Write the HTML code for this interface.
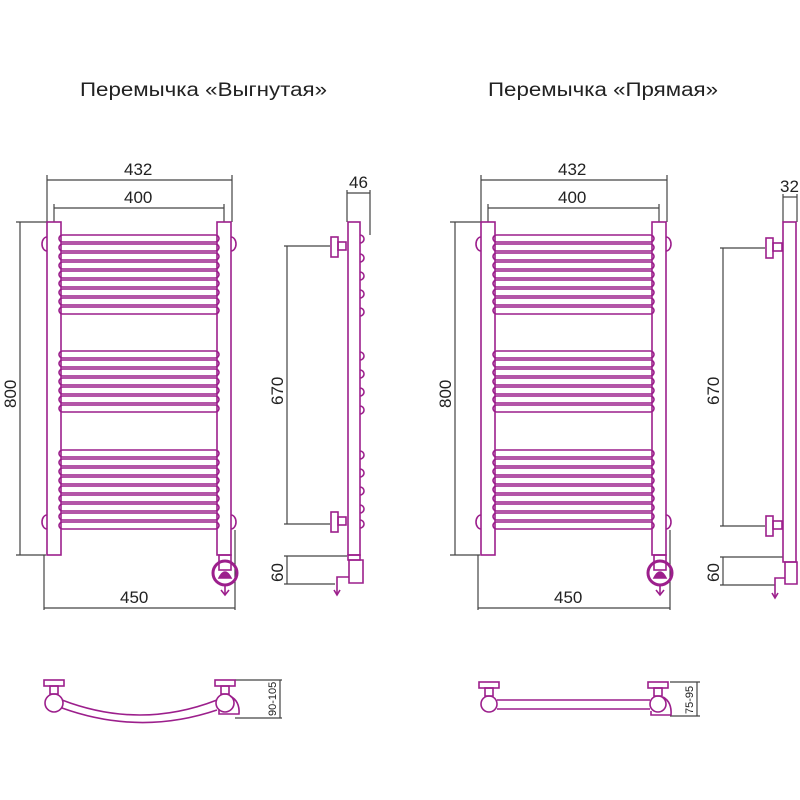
<!DOCTYPE html>
<html><head><meta charset="utf-8"><style>
html,body{margin:0;padding:0;background:#fff;}
svg{display:block;}
text{font-family:"Liberation Sans",sans-serif;fill:#222;}
</style></head><body>
<svg width="800" height="800" viewBox="0 0 800 800" xmlns="http://www.w3.org/2000/svg">
<text x="80" y="96" font-size="19" textLength="247" lengthAdjust="spacingAndGlyphs">Перемычка «Выгнутая»</text>
<text x="488" y="96" font-size="19" textLength="230" lengthAdjust="spacingAndGlyphs">Перемычка «Прямая»</text>

<!-- ===== LEFT FRONT ===== -->
<g stroke="#444" stroke-width="1.2" fill="none">
<line x1="47" y1="180" x2="232" y2="180"/><line x1="47" y1="175" x2="47" y2="222"/><line x1="232" y1="175" x2="232" y2="222"/>
<line x1="54" y1="208" x2="224" y2="208"/><line x1="54" y1="204" x2="54" y2="222"/><line x1="224" y1="204" x2="224" y2="222"/>
<line x1="16" y1="222" x2="47" y2="222"/><line x1="20" y1="222" x2="20" y2="555"/><line x1="16" y1="555" x2="46" y2="555"/>
<line x1="44" y1="555" x2="44" y2="610"/><line x1="44" y1="608" x2="235" y2="608"/><line x1="235" y1="530" x2="235" y2="610"/>
</g>
<text x="124" y="175" font-size="17">432</text>
<text x="124" y="203" font-size="17">400</text>
<text x="120" y="603" font-size="17">450</text>
<text transform="translate(16,408) rotate(-90)" font-size="17">800</text>

<g fill="none" stroke="#9c1f8c" stroke-width="1.6">
<rect x="47" y="222" width="14" height="333"/>
<rect x="217" y="222" width="14" height="333"/>
<path d="M47 237 a5 7 0 0 0 0 14"/><path d="M231 237 a5 7 0 0 1 0 14"/>
<path d="M47 515 a5 7 0 0 0 0 14"/><path d="M231 515 a5 7 0 0 1 0 14"/>
<rect x="59" y="235" width="160" height="7" rx="3.5"/><rect x="59" y="244" width="160" height="7" rx="3.5"/>
<rect x="59" y="253" width="160" height="7" rx="3.5"/><rect x="59" y="262" width="160" height="7" rx="3.5"/>
<rect x="59" y="271" width="160" height="7" rx="3.5"/><rect x="59" y="280" width="160" height="7" rx="3.5"/>
<rect x="59" y="289" width="160" height="7" rx="3.5"/><rect x="59" y="298" width="160" height="7" rx="3.5"/>
<rect x="59" y="307" width="160" height="7" rx="3.5"/>
<rect x="59" y="351" width="160" height="7" rx="3.5"/><rect x="59" y="360" width="160" height="7" rx="3.5"/>
<rect x="59" y="369" width="160" height="7" rx="3.5"/><rect x="59" y="378" width="160" height="7" rx="3.5"/>
<rect x="59" y="387" width="160" height="7" rx="3.5"/><rect x="59" y="396" width="160" height="7" rx="3.5"/>
<rect x="59" y="405" width="160" height="7" rx="3.5"/>
<rect x="59" y="450" width="160" height="7" rx="3.5"/><rect x="59" y="459" width="160" height="7" rx="3.5"/>
<rect x="59" y="468" width="160" height="7" rx="3.5"/><rect x="59" y="477" width="160" height="7" rx="3.5"/>
<rect x="59" y="486" width="160" height="7" rx="3.5"/><rect x="59" y="495" width="160" height="7" rx="3.5"/>
<rect x="59" y="504" width="160" height="7" rx="3.5"/><rect x="59" y="513" width="160" height="7" rx="3.5"/>
<rect x="59" y="522" width="160" height="7" rx="3.5"/>
<rect x="219" y="555" width="12" height="15"/>
<circle cx="225" cy="573" r="12" stroke-width="3"/>
<path d="M219 578 q6 -12 12 0 z" fill="#9c1f8c"/>
<line x1="225" y1="585" x2="225" y2="595"/><path d="M221 590 l4 5 l4 -5"/>
</g>

<!-- LEFT SIDE -->
<g stroke="#444" stroke-width="1.2" fill="none">
<line x1="347" y1="193" x2="370" y2="193"/><line x1="347" y1="190" x2="347" y2="222"/><line x1="370" y1="190" x2="370" y2="235"/>
<line x1="284" y1="246" x2="330" y2="246"/><line x1="287" y1="246" x2="287" y2="524"/><line x1="284" y1="524" x2="330" y2="524"/>
<line x1="284" y1="556" x2="347" y2="556"/><line x1="287" y1="556" x2="287" y2="584"/><line x1="284" y1="584" x2="335" y2="584"/>
</g>
<text x="349" y="188" font-size="17">46</text>
<text transform="translate(283,405) rotate(-90)" font-size="17">670</text>
<text transform="translate(283,582) rotate(-90)" font-size="17">60</text>
<g fill="none" stroke="#9c1f8c" stroke-width="1.6">
<rect x="348" y="222" width="12" height="333"/>
<rect x="331" y="237" width="7" height="20"/><rect x="338" y="242" width="8" height="8"/>
<rect x="331" y="512" width="7" height="20"/><rect x="338" y="517" width="8" height="8"/>
<path d="M360 235 a4 4 0 0 1 0 8 M360 254 a4 4 0 0 1 0 8 M360 272 a4 4 0 0 1 0 8 M360 290 a4 4 0 0 1 0 8 M360 308 a4 4 0 0 1 0 8 M360 352 a4 4 0 0 1 0 8 M360 370 a4 4 0 0 1 0 8 M360 388 a4 4 0 0 1 0 8 M360 406 a4 4 0 0 1 0 8 M360 451 a4 4 0 0 1 0 8 M360 469 a4 4 0 0 1 0 8 M360 487 a4 4 0 0 1 0 8 M360 505 a4 4 0 0 1 0 8 M360 520 a4 4 0 0 1 0 8"/>
<rect x="348" y="555" width="12" height="5"/>
<path d="M349 560 h14 v23 h-14 z M349 577 h-12 v8"/>
<line x1="337" y1="585" x2="337" y2="595"/><path d="M334 590 l3 5 l3 -5"/>
</g>

<!-- LEFT TOP VIEW -->
<g stroke="#444" stroke-width="1.2" fill="none">
<line x1="235" y1="680" x2="282" y2="680"/><line x1="280" y1="680" x2="280" y2="718"/><line x1="235" y1="718" x2="282" y2="718"/>
</g>
<text transform="translate(276,716) rotate(-90)" font-size="11">90-105</text>
<g fill="none" stroke="#9c1f8c" stroke-width="1.6">
<rect x="44" y="680" width="20" height="6"/><rect x="50" y="686" width="8" height="8"/>
<rect x="215" y="680" width="20" height="6"/><rect x="221" y="686" width="8" height="8"/>
<circle cx="54" cy="703" r="9"/><circle cx="225" cy="703" r="9"/>
<path d="M62 700 Q140 730 217 700 M62 708 Q140 736 217 710"/>
<path d="M230 696 q10 5 9 18 h-20 v-4"/>
</g>

<!-- ===== RIGHT FRONT ===== -->
<g stroke="#444" stroke-width="1.2" fill="none">
<line x1="481" y1="180" x2="667" y2="180"/><line x1="481" y1="175" x2="481" y2="222"/><line x1="667" y1="175" x2="667" y2="222"/>
<line x1="488" y1="208" x2="659" y2="208"/><line x1="488" y1="204" x2="488" y2="222"/><line x1="659" y1="204" x2="659" y2="222"/>
<line x1="450" y1="222" x2="481" y2="222"/><line x1="455" y1="222" x2="455" y2="555"/><line x1="450" y1="555" x2="480" y2="555"/>
<line x1="478" y1="555" x2="478" y2="610"/><line x1="478" y1="608" x2="670" y2="608"/><line x1="670" y1="530" x2="670" y2="610"/>
</g>
<text x="558" y="175" font-size="17">432</text>
<text x="558" y="203" font-size="17">400</text>
<text x="554" y="603" font-size="17">450</text>
<text transform="translate(451,408) rotate(-90)" font-size="17">800</text>
<g fill="none" stroke="#9c1f8c" stroke-width="1.6">
<rect x="481" y="222" width="14" height="333"/>
<rect x="652" y="222" width="14" height="333"/>
<path d="M481 237 a5 7 0 0 0 0 14"/><path d="M666 237 a5 7 0 0 1 0 14"/>
<path d="M481 515 a5 7 0 0 0 0 14"/><path d="M666 515 a5 7 0 0 1 0 14"/>
<rect x="493" y="235" width="161" height="7" rx="3.5"/><rect x="493" y="244" width="161" height="7" rx="3.5"/>
<rect x="493" y="253" width="161" height="7" rx="3.5"/><rect x="493" y="262" width="161" height="7" rx="3.5"/>
<rect x="493" y="271" width="161" height="7" rx="3.5"/><rect x="493" y="280" width="161" height="7" rx="3.5"/>
<rect x="493" y="289" width="161" height="7" rx="3.5"/><rect x="493" y="298" width="161" height="7" rx="3.5"/>
<rect x="493" y="307" width="161" height="7" rx="3.5"/>
<rect x="493" y="351" width="161" height="7" rx="3.5"/><rect x="493" y="360" width="161" height="7" rx="3.5"/>
<rect x="493" y="369" width="161" height="7" rx="3.5"/><rect x="493" y="378" width="161" height="7" rx="3.5"/>
<rect x="493" y="387" width="161" height="7" rx="3.5"/><rect x="493" y="396" width="161" height="7" rx="3.5"/>
<rect x="493" y="405" width="161" height="7" rx="3.5"/>
<rect x="493" y="450" width="161" height="7" rx="3.5"/><rect x="493" y="459" width="161" height="7" rx="3.5"/>
<rect x="493" y="468" width="161" height="7" rx="3.5"/><rect x="493" y="477" width="161" height="7" rx="3.5"/>
<rect x="493" y="486" width="161" height="7" rx="3.5"/><rect x="493" y="495" width="161" height="7" rx="3.5"/>
<rect x="493" y="504" width="161" height="7" rx="3.5"/><rect x="493" y="513" width="161" height="7" rx="3.5"/>
<rect x="493" y="522" width="161" height="7" rx="3.5"/>
<rect x="654" y="555" width="12" height="15"/>
<circle cx="660" cy="573" r="12" stroke-width="3"/>
<path d="M654 578 q6 -12 12 0 z" fill="#9c1f8c"/>
<line x1="660" y1="585" x2="660" y2="595"/><path d="M656 590 l4 5 l4 -5"/>
</g>

<!-- RIGHT SIDE -->
<g stroke="#444" stroke-width="1.2" fill="none">
<line x1="783" y1="197" x2="797" y2="197"/><line x1="783" y1="194" x2="783" y2="222"/><line x1="797" y1="194" x2="797" y2="222"/>
<line x1="720" y1="248" x2="765" y2="248"/><line x1="723" y1="248" x2="723" y2="526"/><line x1="720" y1="526" x2="765" y2="526"/>
<line x1="720" y1="557" x2="783" y2="557"/><line x1="723" y1="557" x2="723" y2="585"/><line x1="720" y1="585" x2="775" y2="585"/>
</g>
<text x="780" y="192" font-size="17">32</text>
<text transform="translate(719,405) rotate(-90)" font-size="17">670</text>
<text transform="translate(719,582) rotate(-90)" font-size="17">60</text>
<g fill="none" stroke="#9c1f8c" stroke-width="1.6">
<rect x="783" y="222" width="13" height="340"/>
<rect x="766" y="238" width="7" height="20"/><rect x="773" y="243" width="9" height="8"/>
<rect x="766" y="516" width="7" height="20"/><rect x="773" y="521" width="9" height="8"/>
<path d="M785 562 h12 v22 h-12 z M785 578 h-10 v8"/>
<line x1="775" y1="586" x2="775" y2="598"/><path d="M772 593 l3 5 l3 -5"/>
</g>

<!-- RIGHT TOP VIEW -->
<g stroke="#444" stroke-width="1.2" fill="none">
<line x1="670" y1="682" x2="700" y2="682"/><line x1="697" y1="682" x2="697" y2="716"/><line x1="670" y1="716" x2="700" y2="716"/>
</g>
<text transform="translate(693,714) rotate(-90)" font-size="11">75-95</text>
<g fill="none" stroke="#9c1f8c" stroke-width="1.6">
<rect x="479" y="682" width="20" height="6"/><rect x="485" y="688" width="8" height="8"/>
<rect x="648" y="682" width="20" height="6"/><rect x="654" y="688" width="8" height="8"/>
<circle cx="489" cy="704" r="8"/><circle cx="658" cy="704" r="8"/>
<path d="M497 700 H650 M497 709 H650"/>
<path d="M663 697 q9 5 8 18 h-20 v-4"/>
</g>
</svg>
</body></html>
